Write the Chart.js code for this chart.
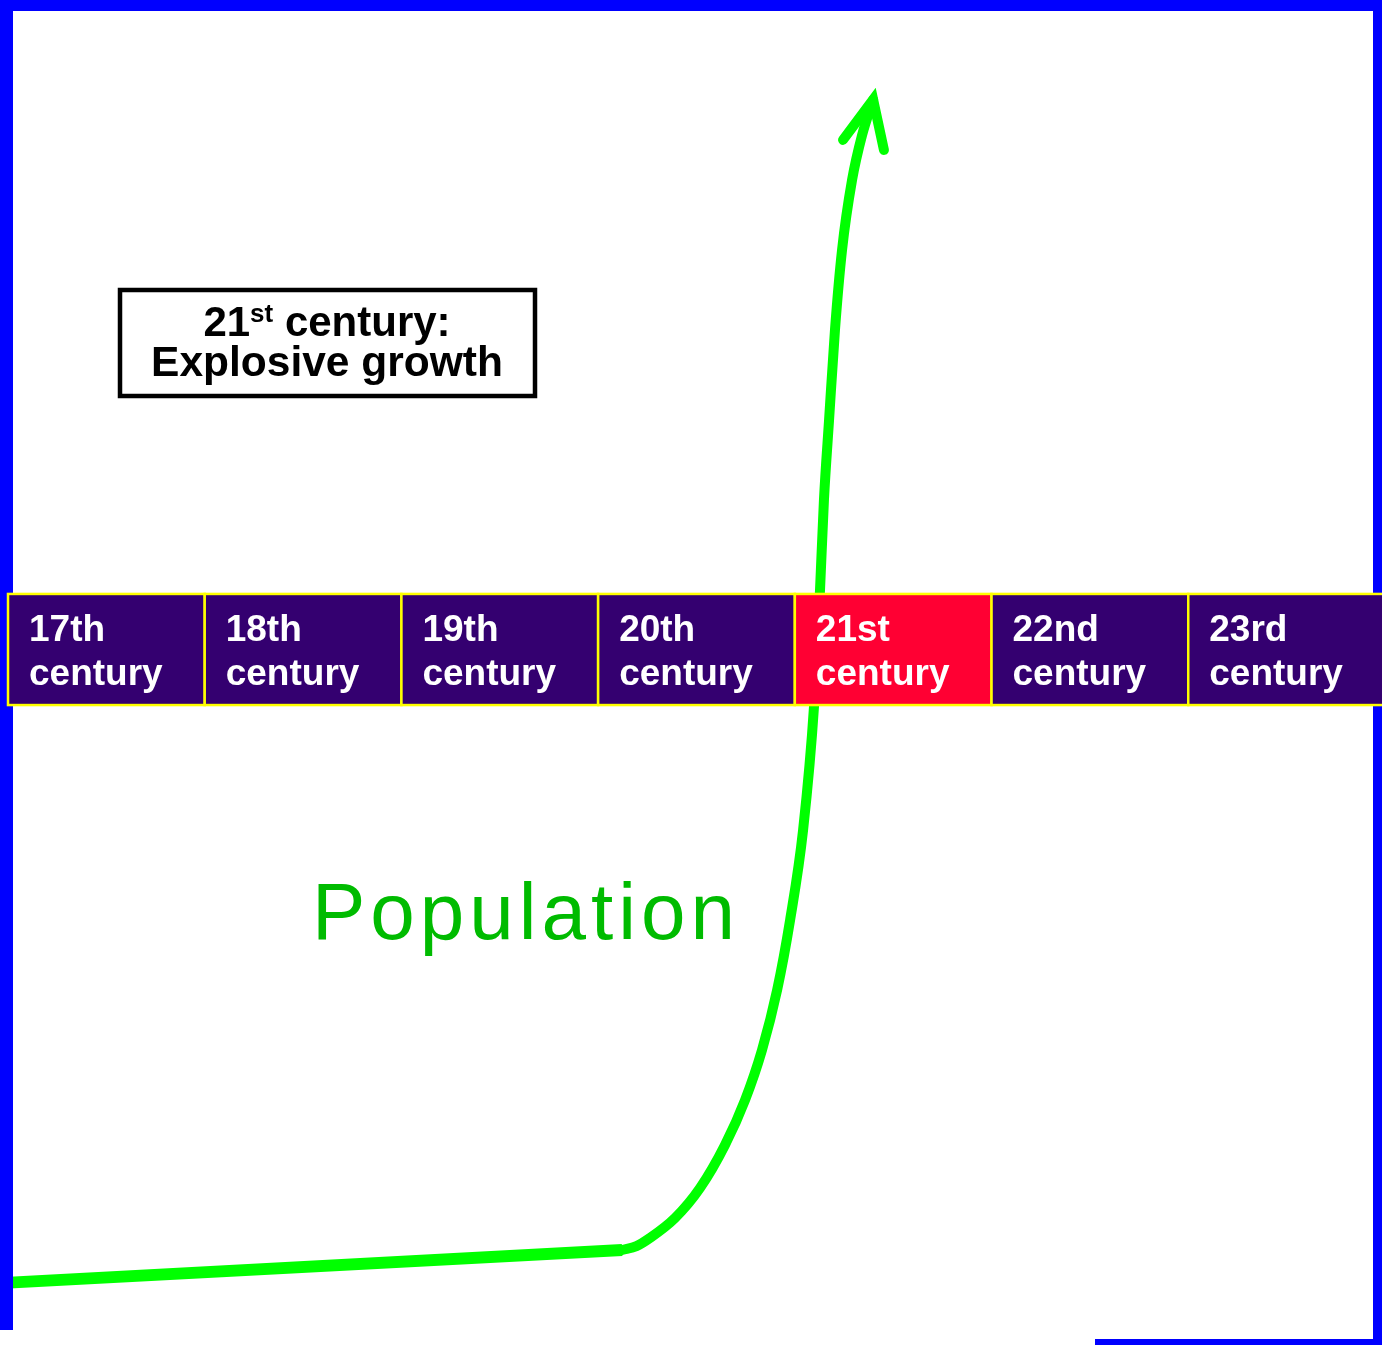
<!DOCTYPE html>
<html>
<head>
<meta charset="utf-8">
<script src="https://cdn.jsdelivr.net/npm/chart.js@4"></script>
<style>
  html, body { margin: 0; padding: 0; background: #fff; }
  #wrap { width: 1382px; height: 1345px; position: relative; }
</style>
</head>
<body>
<div id="wrap"><canvas id="popChart"></canvas></div>
<script>
    // centuries on the band (start year of each)
    var centuries = ['17th', '18th', '19th', '20th', '21st', '22nd', '23rd'];
    var centuryStart = [1600, 1700, 1800, 1900, 2000, 2100, 2200];
    var highlighted = '21st';

    // population index (0-100)
    var baseYears = [1596, 1912.2];
    var basePop = [4.6, 7.06];
    var curveYears = [1912.2, 1919.5, 1926.4, 1939.1, 1951.8, 1964.5, 1974.7, 1983.3, 1991.0, 1997.6, 2004.2, 2009.8, 2012.8, 2014.8, 2017.4, 2020.4, 2024.0, 2029.1, 2034.2, 2039.8];
    var curvePop = [7.06, 7.35, 7.96, 9.44, 11.67, 14.87, 18.22, 21.93, 26.39, 31.6, 38.29, 47.58, 56.13, 62.83, 68.77, 75.46, 81.41, 86.62, 89.96, 92.57];
    var arrowYears = [2024.5, 2039.8, 2045.3];
    var arrowPop = [89.6, 92.6, 88.85];

    var bandTop = 55.84;
    var bandBottom = 47.58;

    function pts(xs, ys) {
      return xs.map(function (x, i) { return { x: x, y: ys[i] }; });
    }

    var green = '#00ff00';

    var overlay = {
      id: 'overlay',
      afterDatasetsDraw: function (chart) {
        var ctx = chart.ctx;
        var xs = chart.scales.x, ys = chart.scales.y;
        var W = chart.width, H = chart.height;
        ctx.save();

        // blue frame
        ctx.fillStyle = '#0000ff';
        ctx.fillRect(0, 0, W, 11);
        ctx.fillRect(0, 0, 13, 1330);
        ctx.fillRect(W - 9, 0, 9, H);
        ctx.fillRect(1095, 1339, W - 1095, 6);

        // century band
        var top = ys.getPixelForValue(bandTop);
        var bot = ys.getPixelForValue(bandBottom);
        for (var i = 0; i < centuries.length; i++) {
          var l = Math.max(xs.getPixelForValue(centuryStart[i]), 7);
          var r = xs.getPixelForValue(centuryStart[i] + 100);
          ctx.fillStyle = centuries[i] === highlighted ? '#ff0033' : '#340070';
          ctx.fillRect(l, top, r - l, bot - top);
          ctx.strokeStyle = '#ffff00';
          ctx.lineWidth = 2.5;
          ctx.strokeRect(l, top, r - l, bot - top);
          ctx.fillStyle = '#ffffff';
          ctx.font = 'bold 37px "Liberation Sans", Arial, sans-serif';
          ctx.textBaseline = 'alphabetic';
          ctx.textAlign = 'left';
          ctx.fillText(centuries[i], l + 21, 641);
          ctx.fillText('century', l + 21, 685);
        }

        // note box
        ctx.fillStyle = '#ffffff';
        ctx.fillRect(120, 290, 415, 106);
        ctx.strokeStyle = '#000000';
        ctx.lineWidth = 4.5;
        ctx.strokeRect(120, 290, 415, 106);
        ctx.fillStyle = '#000000';
        var big = 'bold 42px "Liberation Sans", Arial, sans-serif';
        var sup = 'bold 26px "Liberation Sans", Arial, sans-serif';
        ctx.font = big;
        var w1 = ctx.measureText('21').width;
        var w3 = ctx.measureText(' century:').width;
        ctx.font = sup;
        var w2 = ctx.measureText('st').width;
        var x0 = 327 - (w1 + w2 + w3) / 2;
        ctx.font = big;
        ctx.fillText('21', x0, 336);
        ctx.fillText(' century:', x0 + w1 + w2, 336);
        ctx.font = sup;
        ctx.fillText('st', x0 + w1, 322);
        ctx.font = 'bold 42.5px "Liberation Sans", Arial, sans-serif';
        ctx.textAlign = 'center';
        ctx.fillText('Explosive growth', 327, 376);

        // series label
        ctx.fillStyle = '#00bb00';
        ctx.font = '80px "Liberation Sans", Arial, sans-serif';
        ctx.textAlign = 'left';
        if ('letterSpacing' in ctx) ctx.letterSpacing = '5px';
        ctx.fillText('Population', 312, 939);
        ctx.restore();
      }
    };

    var chart = new Chart(document.getElementById('popChart'), {
      type: 'line',
      data: {
        datasets: [{
          label: 'base',
          data: pts(baseYears, basePop),
          borderColor: green,
          borderWidth: 12,
          pointRadius: 0,
          tension: 0
        }, {
          label: 'Population',
          data: pts(curveYears, curvePop),
          borderColor: green,
          borderWidth: 10,
          borderCapStyle: 'round',
          pointRadius: 0,
          cubicInterpolationMode: 'monotone'
        }, {
          label: 'arrow',
          data: pts(arrowYears, arrowPop),
          borderColor: green,
          borderWidth: 10,
          borderCapStyle: 'round',
          borderJoinStyle: 'miter',
          pointRadius: 0,
          tension: 0
        }]
      },
      options: {
        responsive: true,
        maintainAspectRatio: false,
        animation: false,
        layout: { padding: 0 },
        plugins: { legend: { display: false }, tooltip: { enabled: false } },
        scales: {
          x: { type: 'linear', display: false, min: 1595.93, max: 2298.5 },
          y: { type: 'linear', display: false, min: 0, max: 100 }
        }
      },
      plugins: [overlay]
    });
</script>
</body>
</html>
